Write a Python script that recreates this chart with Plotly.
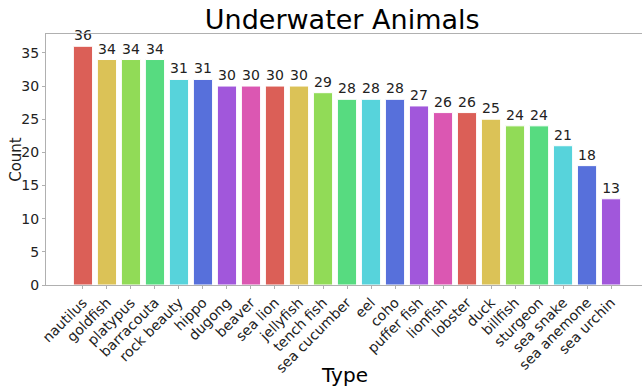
import plotly.graph_objects as go

types = ["nautilus", "goldfish", "platypus", "barracouta", "rock beauty", "hippo",
         "dugong", "beaver", "sea lion", "jellyfish", "tench fish", "sea cucumber",
         "eel", "coho", "puffer fish", "lionfish", "lobster", "duck", "billfish",
         "sturgeon", "sea snake", "sea anemone", "sea urchin"]
counts = [36, 34, 34, 34, 31, 31, 30, 30, 30, 30, 29, 28, 28, 28, 27, 26, 26, 25,
          24, 24, 21, 18, 13]
palette = ["#db5f57", "#dbc257", "#91db57", "#57db80", "#57d3db", "#5770db",
           "#a157db", "#db57b2"]
colors = [palette[i % len(palette)] for i in range(len(types))]

font = "DejaVu Sans"
fig = go.Figure(go.Bar(
    x=list(range(len(types))), y=counts,
    marker=dict(color=colors, line=dict(color="white", width=1)),
    width=0.8,
    text=[str(c) for c in counts], textposition="outside",
    textfont=dict(family=font, size=14, color="#222"),
    cliponaxis=False,
))
fig.update_layout(
    width=642, height=389,
    margin=dict(l=46, r=0, t=34, b=104),
    plot_bgcolor="white", paper_bgcolor="white",
    font=dict(family=font, color="#222"),
    title=dict(text="Underwater Animals", x=0.533, xanchor="center", y=0.95,
               yanchor="middle", font=dict(size=27, color="black")),
    showlegend=False,
    annotations=[
        dict(text="Type", xref="paper", yref="paper", x=0.5, y=-0.3586,
             xanchor="center", yanchor="middle", showarrow=False,
             font=dict(size=20, color="black")),
        dict(text="Count", xref="paper", yref="paper", x=-0.0515, y=0.5,
             xanchor="center", yanchor="middle", showarrow=False, textangle=-90,
             font=dict(size=15, color="#222")),
    ],
)
fig.update_xaxes(
    range=[-1.54, 23.29], tickmode="array", tickvals=list(range(len(types))),
    ticktext=types, tickangle=-45, tickfont=dict(size=14, color="#222"),
    showgrid=False, zeroline=False, showline=True, linecolor="#b0b0b0",
    mirror=True, ticks="outside", ticklen=3, tickcolor="#b0b0b0",
    automargin=False,
)
fig.update_yaxes(
    range=[0, 37.85], tickvals=[0, 5, 10, 15, 20, 25, 30, 35],
    tickfont=dict(size=14, color="#222"),
    showgrid=False, zeroline=False, showline=True, linecolor="#b0b0b0",
    mirror=True, ticks="outside", ticklen=3, tickcolor="#b0b0b0",
    automargin=False,
)
fig.write_html(
    "out.html",
    config={"displayModeBar": False},
    post_script="document.body.style.margin='0';document.body.style.overflow='hidden';",
)
